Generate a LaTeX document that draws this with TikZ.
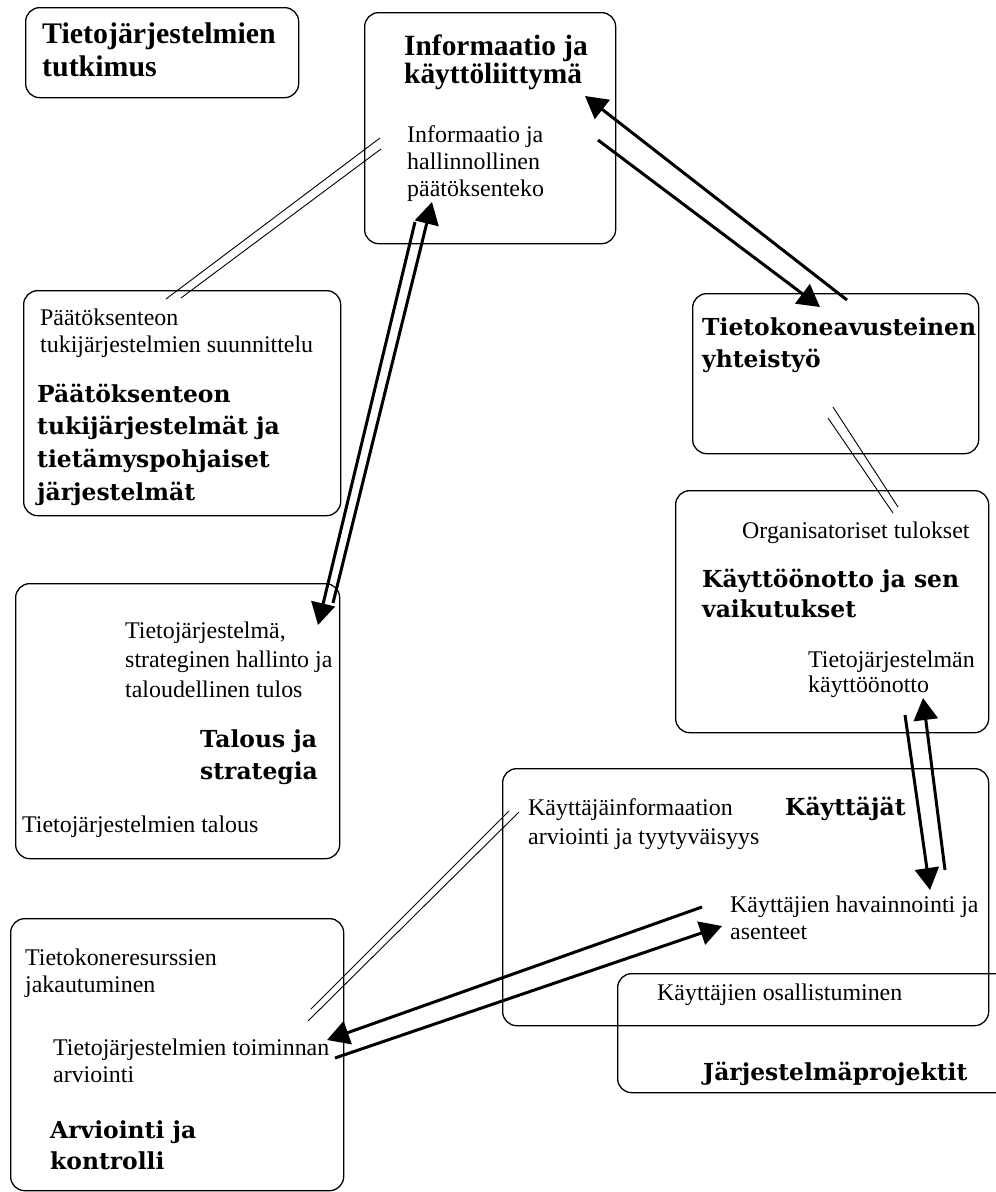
\documentclass[tikz,border=0pt]{standalone}
\usepackage{fontspec}
\setmainfont{Liberation Serif}
\newfontfamily\slabserif{DejaVu Serif}
\usetikzlibrary{arrows.meta}
% stacked lines whose baseline is the baseline of the first line
\newcommand\lns[1]{\vtop{\def\\{\egroup\hbox\bgroup}\hbox\bgroup#1\egroup}}
\tikzset{
  panel/.style={draw, line width=1.3bp, rounded corners=14bp, inner sep=0pt, anchor=north west},
  boxnote/.style={anchor=base west, inner sep=0pt, font=\fontsize{24}{28}\selectfont},
  boxhead/.style={anchor=base west, inner sep=0pt, font=\slabserif\bfseries\fontsize{23.5}{33}\selectfont},
  boxtop/.style={anchor=base west, inner sep=0pt, font=\bfseries\fontsize{30}{31}\selectfont},
  pairline/.style={line width=0.9bp},
  flowarrow/.style={line width=3bp, -{Triangle[length=22bp,width=24bp]}},
}
\begin{document}
\begin{tikzpicture}[x=1bp,y=-1bp]
\useasboundingbox (0,0) rectangle (996,1192);
\clip (0,0) rectangle (996,1192);

% ---- boxes ----
\node[panel, minimum width=273bp, minimum height=90bp]  (tutk)  at (25,7)   {};
\node[panel, minimum width=251bp, minimum height=231bp] (info)  at (364,12) {};
\node[panel, minimum width=317bp, minimum height=225bp] (dss)   at (23,290) {};
\node[panel, minimum width=324bp, minimum height=275bp] (talous) at (15,583) {};
\node[panel, minimum width=333bp, minimum height=272bp] (arvi)  at (10,918) {};
\node[panel, minimum width=286bp, minimum height=160bp] (yhte)  at (692,293) {};
\node[panel, minimum width=313bp, minimum height=242bp] (kayt)  at (675,490) {};
\node[panel, minimum width=486bp, minimum height=257bp] (users) at (502,768) {};
\node[panel, minimum width=392bp, minimum height=119bp] (proj)  at (617,973) {};

% ---- texts ----
\node[boxtop, font=\bfseries\fontsize{30}{34}\selectfont] (tutk-h) at (42,43) {\lns{Tietojärjestelmien\\tutkimus}};
\node[boxtop, font=\bfseries\fontsize{29.5}{29}\selectfont] (info-h) at (404,55) {\lns{Informaatio ja\\käyttöliittymä}};
\node[boxnote, font=\fontsize{24}{27.5}\selectfont] (info-t) at (407,142) {\lns{Informaatio ja\\hallinnollinen\\päätöksenteko}};

\node[boxnote] (dss-t) at (40,325) {\lns{Päätöksenteon\\tukijärjestelmien suunnittelu}};
\node[boxhead] (dss-h) at (37,402) {\lns{Päätöksenteon\\tukijärjestelmät ja\\tietämyspohjaiset\\järjestelmät}};

\node[boxnote, font=\fontsize{24}{30}\selectfont] (tal-t) at (125,638) {\lns{Tietojärjestelmä,\\strateginen hallinto ja\\taloudellinen tulos}};
\node[boxhead] (tal-h) at (200,747) {\lns{Talous ja\\strategia}};
\node[boxnote] (tal-b) at (22,832) {Tietojärjestelmien talous};

\node[boxnote] (arv-t) at (25,965) {\lns{Tietokoneresurssien\\jakautuminen}};
\node[boxnote] (arv-m) at (53,1055) {\lns{Tietojärjestelmien toiminnan\\arviointi}};
\node[boxhead, font=\slabserif\bfseries\fontsize{23.5}{32}\selectfont] (arv-h) at (50,1138) {\lns{Arviointi ja\\kontrolli}};

\node[boxhead] (yhte-h) at (702,335) {\lns{Tietokoneavusteinen\\yhteistyö}};

\node[boxnote] (kayt-t) at (742,538) {Organisatoriset tulokset};
\node[boxhead, font=\slabserif\bfseries\fontsize{23.5}{31}\selectfont] (kayt-h) at (702,587) {\lns{Käyttöönotto ja sen\\vaikutukset}};
\node[boxnote, font=\fontsize{24}{26}\selectfont] (kayt-b) at (808,667) {\lns{Tietojärjestelmän\\käyttöönotto}};

\node[boxnote, font=\fontsize{24}{30}\selectfont] (usr-t) at (528,815) {\lns{Käyttäjäinformaation\\arviointi ja tyytyväisyys}};
\node[boxhead] (usr-h) at (785,815) {Käyttäjät};
\node[boxnote] (usr-m) at (730,912) {\lns{Käyttäjien havainnointi ja\\asenteet}};

\node[boxnote] (proj-t) at (657,1000) {Käyttäjien osallistuminen};
\node[boxhead] (proj-h) at (703,1080) {Järjestelmäprojektit};

% ---- connector end points ----
\coordinate (a1s) at (380,138); \coordinate (a1e) at (166,299);
\coordinate (a2s) at (381,149); \coordinate (a2e) at (181,298);
\coordinate (b1s) at (333,603); \coordinate (b1e) at (432,202);
\coordinate (b2s) at (415,222); \coordinate (b2e) at (318,625);
\coordinate (c1s) at (847,300); \coordinate (c1e) at (585,96);
\coordinate (c2s) at (598,140); \coordinate (c2e) at (820,307);
\coordinate (d1s) at (833,407); \coordinate (d1e) at (898,507);
\coordinate (d2s) at (828,418); \coordinate (d2e) at (893,513);
\coordinate (e1s) at (945,870); \coordinate (e1e) at (923,698);
\coordinate (e2s) at (905,715); \coordinate (e2e) at (930,890);
\coordinate (f1s) at (702,907); \coordinate (f1e) at (327,1040);
\coordinate (f2s) at (335,1058); \coordinate (f2e) at (722,926);
\coordinate (g1s) at (509,811); \coordinate (g1e) at (311,1009);
\coordinate (g2s) at (519,812); \coordinate (g2e) at (308,1021);

% ---- double thin links ----
\draw[pairline] (a1s) -- (a1e);
\draw[pairline] (a2s) -- (a2e);
\draw[pairline] (d1s) -- (d1e);
\draw[pairline] (d2s) -- (d2e);
\draw[pairline] (g1s) -- (g1e);
\draw[pairline] (g2s) -- (g2e);

% ---- two-way arrows ----
\draw[flowarrow] (b1s) -- (b1e);
\draw[flowarrow] (b2s) -- (b2e);
\draw[flowarrow] (c1s) -- (c1e);
\draw[flowarrow] (c2s) -- (c2e);
\draw[flowarrow] (e1s) -- (e1e);
\draw[flowarrow] (e2s) -- (e2e);
\draw[flowarrow] (f1s) -- (f1e);
\draw[flowarrow] (f2s) -- (f2e);
\end{tikzpicture}
\end{document}
